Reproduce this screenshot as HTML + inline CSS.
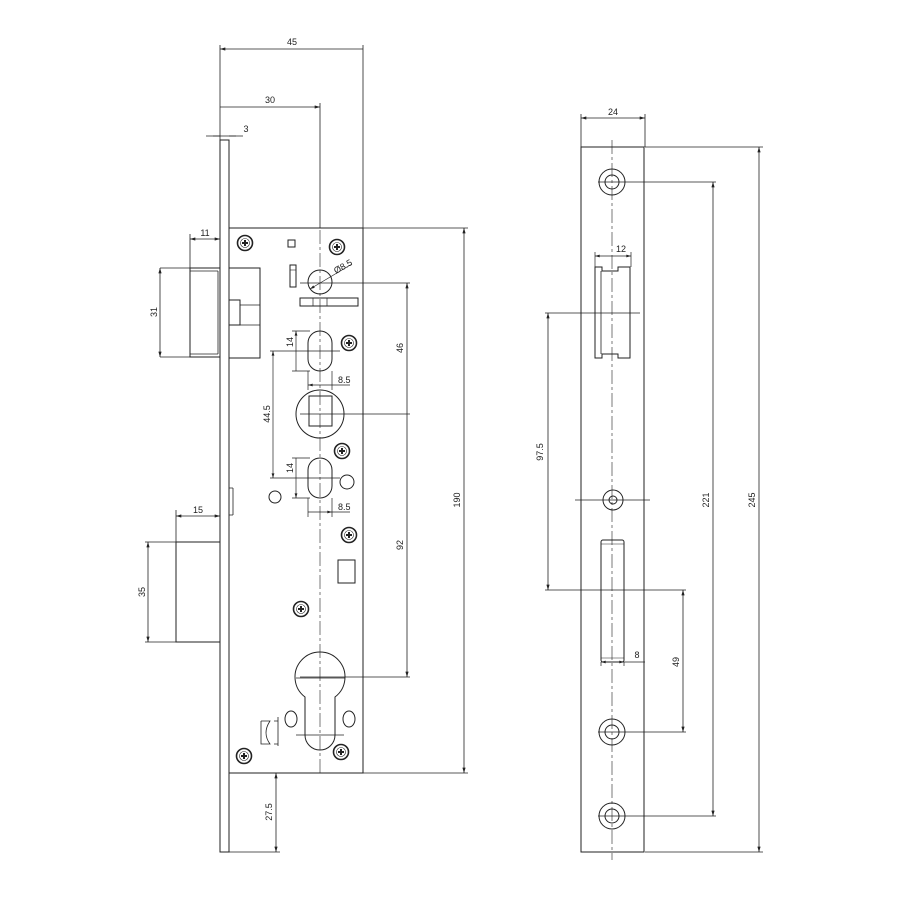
<!DOCTYPE html>
<html><head><meta charset="utf-8"><style>
html,body{margin:0;padding:0;background:#fff}
svg{display:block}
text{font-family:"Liberation Sans",sans-serif;font-size:9px;fill:#222}
</style></head><body>
<svg width="900" height="900" viewBox="0 0 900 900" xmlns="http://www.w3.org/2000/svg">
<defs>
<marker id="a" viewBox="0 0 10 6" refX="10" refY="3" markerWidth="8" markerHeight="4" orient="auto-start-reverse"><path d="M0,0 L10,3 L0,6 z" fill="#222"/></marker>
<g id="scr"><circle r="7.5" fill="none" stroke="#222" stroke-width="1.6"/><circle r="4.5" fill="none" stroke="#222" stroke-width="0.6"/><path d="M-3,0H3M0,-3V3" stroke="#222" stroke-width="2"/></g>
</defs>
<g fill="none" stroke="#222" stroke-width="1">
<!-- faceplate -->
<rect x="220" y="140" width="9" height="712"/>
<!-- body -->
<rect x="229" y="228" width="134" height="545"/>
<!-- ext lines top -->
<path d="M220 45V140M363 45V228M320 103V228M213 136H236" stroke-width="0.8"/>
<path d="M220 49H363M220 107H320" marker-start="url(#a)" marker-end="url(#a)" stroke-width="0.8"/>
<path d="M206 136H220M229 136H243" stroke-width="0.8"/>
<!-- latch -->
<rect x="190" y="268" width="30" height="89"/>
<path d="M218 271V354M190 271H218M190 354H218" stroke-width="0.8"/>
<rect x="229" y="268" width="31" height="90"/>
<rect x="229" y="300" width="11" height="25"/>
<path d="M240 305H260M240 325H260" stroke-width="0.8"/>
<path d="M190 234V268M160 268H190M160 357H190" stroke-width="0.8"/>
<path d="M190 239H220" marker-start="url(#a)" marker-end="url(#a)" stroke-width="0.8"/>
<path d="M160 268V357" marker-start="url(#a)" marker-end="url(#a)" stroke-width="0.8"/>
<!-- deadbolt -->
<rect x="176" y="542" width="44" height="100"/>
<path d="M176 510V542M145 542H176M145 642H176" stroke-width="0.8"/>
<path d="M176 516H220" marker-start="url(#a)" marker-end="url(#a)" stroke-width="0.8"/>
<path d="M148 542V642" marker-start="url(#a)" marker-end="url(#a)" stroke-width="0.8"/>
<path d="M229 488H233M229 515H233M233 488V515" stroke-width="0.8"/>
<!-- centerline -->
<path d="M320 230V775" stroke-width="0.6" stroke-dasharray="14,3,3,3"/>
<!-- top features -->
<rect x="288" y="240" width="7" height="7"/>
<rect x="290" y="265" width="6" height="22"/>
<path d="M290 270H296" stroke-width="0.6"/>
<circle cx="320" cy="282" r="12"/>
<rect x="300" y="298" width="58" height="8"/>
<path d="M313 298V306M327 298V306" stroke-width="0.7"/>
<path d="M310 289L352 264" stroke-width="0.7" marker-start="url(#a)"/>
<path d="M300 283H410M300 414H410M300 677H410" stroke-width="0.8"/>
<!-- slots -->
<rect x="308" y="331" width="24" height="40" rx="12"/>
<rect x="308" y="458" width="24" height="40" rx="12"/>
<path d="M292 331H310M292 371H310M292 458H310M292 498H310" stroke-width="0.7"/>
<path d="M296 331V371M296 458V498" stroke-width="0.7" marker-start="url(#a)" marker-end="url(#a)"/>
<path d="M308 371V390M332 371V390M308 498V517M332 498V517" stroke-width="0.7"/>
<path d="M308 385H332M308 512H332" stroke-width="0.7" marker-start="url(#a)" marker-end="url(#a)"/>
<path d="M332 385H350M332 512H350" stroke-width="0.7"/>
<path d="M270 351H340M270 478H340" stroke-width="0.7"/>
<path d="M273 351V478" stroke-width="0.7" marker-start="url(#a)" marker-end="url(#a)"/>
<!-- follower -->
<circle cx="320" cy="414" r="24"/>
<rect x="309" y="396" width="23" height="30"/>
<circle cx="275" cy="497" r="6"/>
<circle cx="347" cy="482" r="7"/>
<rect x="338" y="560" width="17" height="23"/>
<!-- cylinder -->
<path d="M305 697A25 25 0 1 1 335 697V735A15 15 0 0 1 305 735Z"/>
<path d="M296 735H344M296 678H345" stroke-width="0.7"/>
<ellipse cx="291" cy="719" rx="6" ry="8"/>
<ellipse cx="349" cy="719" rx="6" ry="8"/>
<path d="M261 721H270Q262 733 270 744H261V721M278 717V746M274 721H278M274 744H278" stroke-width="0.8"/>
<!-- right dims -->
<path d="M363 228H468M363 773H468" stroke-width="0.8"/>
<path d="M464 228V773" marker-start="url(#a)" marker-end="url(#a)" stroke-width="0.8"/>
<path d="M407 283V414M407 414V677" marker-start="url(#a)" marker-end="url(#a)" stroke-width="0.8"/>
<path d="M229 852H280" stroke-width="0.8"/>
<path d="M276 773V852" marker-start="url(#a)" marker-end="url(#a)" stroke-width="0.8"/>
</g>
<use href="#scr" x="245" y="243"/><use href="#scr" x="337" y="247"/><use href="#scr" x="349" y="343"/>
<use href="#scr" x="342" y="451"/><use href="#scr" x="349" y="535"/><use href="#scr" x="301" y="609"/>
<use href="#scr" x="244" y="756"/><use href="#scr" x="341" y="752"/>
<text x="292" y="45" text-anchor="middle">45</text>
<text x="270" y="103" text-anchor="middle">30</text>
<text x="246" y="132" text-anchor="middle">3</text>
<text x="205" y="236" text-anchor="middle">11</text>
<text x="198" y="513" text-anchor="middle">15</text>
<text x="338" y="383">8.5</text>
<text x="338" y="510">8.5</text>
<text x="336" y="274" transform="rotate(-30 336 274)">Ø8.5</text>
<text transform="translate(157 312) rotate(-90)" text-anchor="middle">31</text>
<text transform="translate(145 592) rotate(-90)" text-anchor="middle">35</text>
<text transform="translate(293 342) rotate(-90)" text-anchor="middle">14</text>
<text transform="translate(293 468) rotate(-90)" text-anchor="middle">14</text>
<text transform="translate(270 414) rotate(-90)" text-anchor="middle">44.5</text>
<text transform="translate(403 348) rotate(-90)" text-anchor="middle">46</text>
<text transform="translate(403 545) rotate(-90)" text-anchor="middle">92</text>
<text transform="translate(460 500) rotate(-90)" text-anchor="middle">190</text>
<text transform="translate(272 812) rotate(-90)" text-anchor="middle">27.5</text>

<!-- strike plate -->
<g fill="none" stroke="#222" stroke-width="1">
<rect x="581" y="147" width="63" height="705"/>
<path d="M612 140V860" stroke-width="0.6" stroke-dasharray="14,3,3,3"/>
<path d="M581 114V147M645 114V147" stroke-width="0.8"/>
<path d="M581 118H645" marker-start="url(#a)" marker-end="url(#a)" stroke-width="0.8"/>
<path d="M645 147H763M598 182H716M598 816H716M645 852H763M545 313H640M545 590H686M598 732H686M575 500H650" stroke-width="0.8"/>
<circle cx="612" cy="182" r="13"/><circle cx="612" cy="182" r="7"/>
<circle cx="612" cy="732" r="13"/><circle cx="612" cy="732" r="7"/>
<circle cx="612" cy="816" r="13"/><circle cx="612" cy="816" r="7"/>
<circle cx="613" cy="500" r="10"/><circle cx="613" cy="500" r="4"/>
<path d="M595 267H602V271H618V267H630V358H618V354H602V358H595Z"/>
<path d="M601 271V354" stroke-width="0.8"/>
<path d="M595 252V267M631 252V267" stroke-width="0.7"/>
<path d="M595 256H631" marker-start="url(#a)" marker-end="url(#a)" stroke-width="0.7"/>
<rect x="601" y="540" width="23" height="122" rx="2"/>
<path d="M601 544H624M601 658H624" stroke-width="0.6"/>
<path d="M601 662V666M624 662V666" stroke-width="0.7"/>
<path d="M601 662H624" marker-start="url(#a)" marker-end="url(#a)" stroke-width="0.7"/>
<path d="M624 662H645" stroke-width="0.7"/>
<path d="M548 313V590" marker-start="url(#a)" marker-end="url(#a)" stroke-width="0.8"/>
<path d="M683 590V732" marker-start="url(#a)" marker-end="url(#a)" stroke-width="0.8"/>
<path d="M713 182V816" marker-start="url(#a)" marker-end="url(#a)" stroke-width="0.8"/>
<path d="M759 147V852" marker-start="url(#a)" marker-end="url(#a)" stroke-width="0.8"/>
</g>
<text x="613" y="115" text-anchor="middle">24</text>
<text x="621" y="252" text-anchor="middle">12</text>
<text x="637" y="658" text-anchor="middle">8</text>
<text transform="translate(543 452) rotate(-90)" text-anchor="middle">97.5</text>
<text transform="translate(679 662) rotate(-90)" text-anchor="middle">49</text>
<text transform="translate(709 500) rotate(-90)" text-anchor="middle">221</text>
<text transform="translate(755 500) rotate(-90)" text-anchor="middle">245</text>
</svg>
</body></html>
